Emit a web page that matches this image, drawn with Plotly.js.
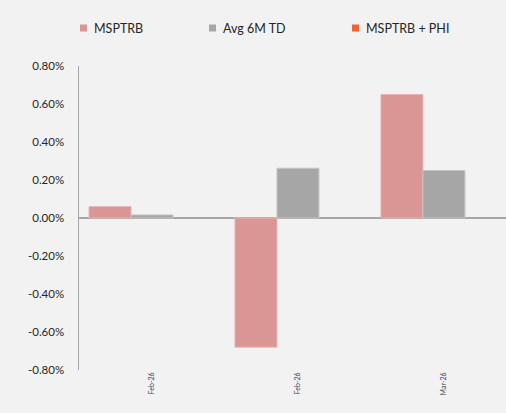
<!DOCTYPE html>
<html><head><meta charset="utf-8">
<script src="https://cdn.plot.ly/plotly-3.0.1.min.js"></script>
<style>html,body{margin:0;padding:0;background:#F2F2F2;}#chart{width:506px;height:413px;}</style>
</head><body><div id="chart"></div>
<script>
const categories = ["Feb-26", "Feb-26", "Mar-26"];
const seriesNames = ["MSPTRB", "Avg 6M TD", "MSPTRB + PHI"];
const msptrb = [0.06, -0.68, 0.65];
const avg6mTd = [0.016, 0.262, 0.25];
const msptrbPhi = [null, null, null];
const yTickVals = [-0.8, -0.6, -0.4, -0.2, 0, 0.2, 0.4, 0.6, 0.8];
const yTickText = ["-0.80%", "-0.60%", "-0.40%", "-0.20%", "0.00%", "0.20%", "0.40%", "0.60%", "0.80%"];

const colors = ["#DA9694", "#A6A6A6", "#F0642F"];
const edge = ["#E8B4B2", "#C4C4C4", "#F0642F"];
const xs = categories.map((c, i) => i);
const series = [msptrb, avg6mTd, msptrbPhi];

const traces = series.map((vals, i) => ({
  type: "bar", x: xs, y: vals, name: seriesNames[i],
  marker: {color: colors[i], line: {color: edge[i], width: 1}},
  hoverinfo: "skip"
}));

const font = "Lato, 'Open Sans', sans-serif";
const legendX = [80, 209, 352];
const shapes = [], annotations = [];
seriesNames.forEach((n, i) => {
  shapes.push({type: "rect", xref: "paper", yref: "paper",
    x0: (legendX[i] - 79) / 427, x1: (legendX[i] + 7 - 79) / 427,
    y0: (413 - 43 - 24.5) / 304 - 0, y1: (413 - 43 - 31.5) / 304,
    fillcolor: colors[i], line: {width: 0}});
  annotations.push({xref: "paper", yref: "paper", x: (legendX[i] + 12 - 79) / 427,
    y: (413 - 43 - 28) / 304, xanchor: "left", yanchor: "middle", showarrow: false,
    text: n, font: {family: font, size: 12.5, color: "#262626"}});
});

const layout = {
  width: 506, height: 413,
  margin: {l: 79, r: 0, t: 66, b: 43},
  paper_bgcolor: "#F2F2F2", plot_bgcolor: "#F2F2F2",
  barmode: "group", bargap: 0.137, bargroupgap: 0,
  showlegend: false,
  font: {family: font, color: "#262626"},
  xaxis: {range: [-0.5, 2.425], tickvals: xs, ticktext: categories, tickangle: -90,
    showgrid: false, zeroline: false, showline: false, ticks: "",
    tickfont: {size: 7, color: "#404040"}, fixedrange: true},
  yaxis: {range: [-0.8, 0.8], tickvals: yTickVals, ticktext: yTickText,
    showgrid: false, zeroline: true, zerolinecolor: "#A6A6A6", zerolinewidth: 1.5,
    showline: true, linecolor: "#A6A6A6", linewidth: 1.5, ticks: "",
    ticklabelstandoff: 11, tickfont: {size: 11.5, color: "#262626"}, fixedrange: true},
  shapes: shapes, annotations: annotations
};
Plotly.newPlot("chart", traces, layout, {displayModeBar: false, staticPlot: true});
</script></body></html>
